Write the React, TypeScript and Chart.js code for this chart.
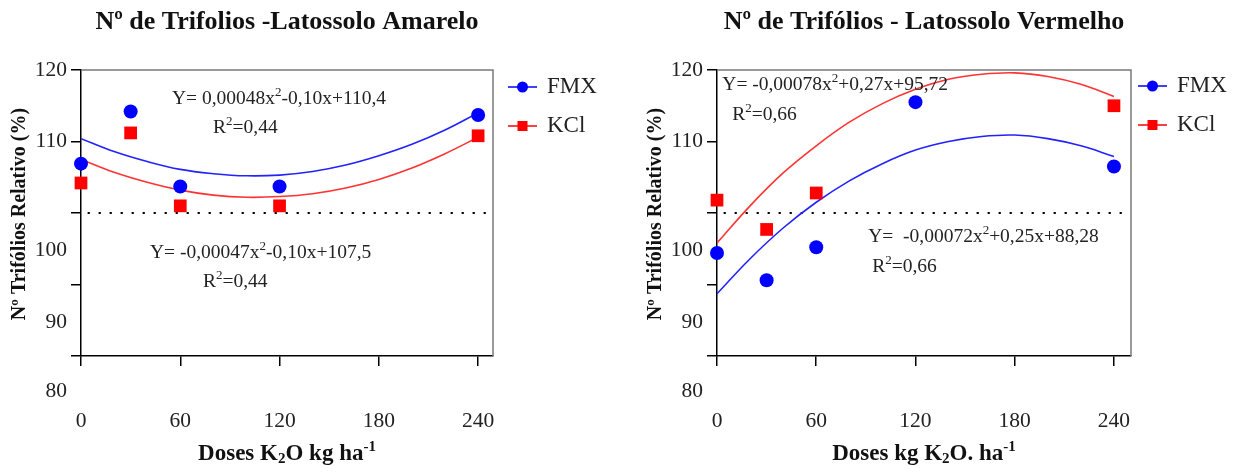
import React, { useEffect, useRef } from 'react';
import { Chart, registerables } from 'chart.js';

Chart.register(...registerables);

// ---------- data ----------
const doses = [0, 30, 60, 120, 240];
const fmxAmarelo = [106.9, 114.2, 103.7, 103.7, 113.7];
const kclAmarelo = [104.2, 111.2, 101.0, 101.0, 110.8];
const fmxVermelho = [94.4, 90.6, 95.2, 115.5, 106.5];
const kclVermelho: (number | null)[] = [101.8, 97.7, 102.8, null, 115.0];

const curveDoses = [0, 20, 40, 60, 80, 100, 120, 140, 160, 180, 200, 220, 240];
const fitFmxAmarelo = [110.4, 108.6, 107.2, 106.1, 105.5, 105.2, 105.3, 105.8, 106.7, 108.0, 109.6, 111.6, 114.0];
const fitKclAmarelo = [107.5, 105.7, 104.3, 103.2, 102.5, 102.2, 102.3, 102.7, 103.5, 104.7, 106.3, 108.3, 110.6];
const fitFmxVermelho = [88.7, 93.6, 97.9, 101.5, 104.5, 106.9, 108.8, 110.0, 110.7, 110.9, 110.4, 109.4, 107.9];
const fitKclVermelho = [95.8, 101.0, 105.6, 109.4, 112.7, 115.3, 117.3, 118.7, 119.4, 119.6, 119.1, 118.0, 116.3];

const xTicks = [0, 60, 120, 180, 240];
const yTicks = [80, 90, 100, 110, 120];
const yTickLabels = ['120', '110', '100', '90', '80'];
const yTickLabelAt = [120, 110, 94.8, 84.7, 75];
const referenceLevel = 100;
const referenceSpan = [4, 246];
const seriesNames = ['FMX', 'KCl'];

const titleAmarelo = 'Nº de Trifolios -Latossolo Amarelo';
const titleVermelho = 'Nº de Trifólios - Latossolo Vermelho';
const xTitleAmarelo = 'Doses K_{2}O kg ha^{-1}';
const xTitleVermelho = 'Doses kg K_{2}O. ha^{-1}';
const yTitle = 'Nº Trifólios Relativo (%)';

const eqAmarelo = ['Y= 0,00048x^{2}-0,10x+110,4', 'R^{2}=0,44', 'Y= -0,00047x^{2}-0,10x+107,5', 'R^{2}=0,44'];
const eqVermelho = ['Y= -0,00078x^{2}+0,27x+95,72', 'R^{2}=0,66', 'Y=  -0,00072x^{2}+0,25x+88,28', 'R^{2}=0,66'];

// ---------- layout ----------
const H = 472;
const AREA_TOP = 70;
const AREA_BOTTOM = 356;
const SERIF = '"Liberation Serif", "Times New Roman", serif';
const BLUE = '#0000ff';
const RED = '#ff0000';

type Panel = {
  title: string;
  xTitle: string;
  fmx: (number | null)[];
  kcl: (number | null)[];
  fitFmx: number[];
  fitKcl: number[];
  eqTexts: string[];
  eqPos: { x: number; y: number }[];
  canvasLeft: number;
  canvasWidth: number;
  areaLeft: number;
  areaRight: number;
  xMax: number;
  legendX: number;
  legendY: number[];
};

const panels: Panel[] = [
  {
    title: titleAmarelo,
    xTitle: xTitleAmarelo,
    fmx: fmxAmarelo,
    kcl: kclAmarelo,
    fitFmx: fitFmxAmarelo,
    fitKcl: fitKclAmarelo,
    eqTexts: eqAmarelo,
    eqPos: [
      { x: 55, y: 115.9 },
      { x: 79.8, y: 111.9 },
      { x: 41.7, y: 94.4 },
      { x: 73.7, y: 90.35 },
    ],
    canvasLeft: 0,
    canvasWidth: 626,
    areaLeft: 81,
    areaRight: 493,
    xMax: 249,
    legendX: 508,
    legendY: [87, 126],
  },
  {
    title: titleVermelho,
    xTitle: xTitleVermelho,
    fmx: fmxVermelho,
    kcl: kclVermelho,
    fitFmx: fitFmxVermelho,
    fitKcl: fitKclVermelho,
    eqTexts: eqVermelho,
    eqPos: [
      { x: 3.2, y: 117.9 },
      { x: 9.2, y: 113.7 },
      { x: 91.4, y: 96.6 },
      { x: 93.8, y: 92.45 },
    ],
    canvasLeft: 626,
    canvasWidth: 618,
    areaLeft: 91,
    areaRight: 505,
    xMax: 250.3,
    legendX: 512,
    legendY: [86, 125],
  },
];

// rich text: ^{..} superscript, _{..} subscript
type Seg = { t: string; k: 'n' | 'sup' | 'sub' };
function parseRich(s: string): Seg[] {
  const out: Seg[] = [];
  const re = /(\^\{[^}]*\}|_\{[^}]*\})/g;
  let last = 0;
  let m: RegExpExecArray | null;
  while ((m = re.exec(s))) {
    if (m.index > last) out.push({ t: s.slice(last, m.index), k: 'n' });
    const tok = m[0];
    out.push({ t: tok.slice(2, -1), k: tok[0] === '^' ? 'sup' : 'sub' });
    last = m.index + tok.length;
  }
  if (last < s.length) out.push({ t: s.slice(last), k: 'n' });
  return out;
}

function drawRich(
  ctx: CanvasRenderingContext2D,
  s: string,
  x: number,
  y: number,
  size: number,
  bold: boolean,
  align: 'left' | 'center',
  color: string
) {
  const segs = parseRich(s);
  const w = bold ? 'bold ' : '';
  const fontFor = (k: string) => `${w}${k === 'n' ? size : Math.round(size * 0.65)}px ${SERIF}`;
  let total = 0;
  for (const sg of segs) {
    ctx.font = fontFor(sg.k);
    total += ctx.measureText(sg.t).width;
  }
  let cx = align === 'center' ? x - total / 2 : x;
  ctx.fillStyle = color;
  ctx.textBaseline = 'middle';
  ctx.textAlign = 'left';
  for (const sg of segs) {
    ctx.font = fontFor(sg.k);
    const dy = sg.k === 'sup' ? -size * 0.32 : sg.k === 'sub' ? size * 0.22 : 0;
    ctx.fillText(sg.t, cx, y + dy);
    cx += ctx.measureText(sg.t).width;
  }
}

function makeDecor(p: Panel) {
  return {
    id: 'decor',
    afterDraw(chart: any) {
      const ctx: CanvasRenderingContext2D = chart.ctx;
      const a = chart.chartArea;
      const xs = chart.scales.x;
      const ys = chart.scales.y;
      ctx.save();
      // top/right frame
      ctx.strokeStyle = '#7a7a7a';
      ctx.lineWidth = 1.5;
      ctx.beginPath();
      ctx.moveTo(a.left, a.top);
      ctx.lineTo(a.right, a.top);
      ctx.lineTo(a.right, a.bottom);
      ctx.stroke();

      // y tick labels
      ctx.font = `21.5px ${SERIF}`;
      ctx.fillStyle = '#222';
      ctx.textAlign = 'right';
      ctx.textBaseline = 'middle';
      yTickLabels.forEach((lab, i) => {
        ctx.fillText(lab, a.left - 14, ys.getPixelForValue(yTickLabelAt[i]));
      });

      // title
      drawRich(ctx, p.title, (a.left + a.right) / 2, 22, 26, true, 'center', '#111');
      // x title
      drawRich(ctx, p.xTitle, (a.left + a.right) / 2, 454, 23, true, 'center', '#111');
      // y title
      ctx.save();
      ctx.translate(a.left - 61, 214);
      ctx.rotate(-Math.PI / 2);
      drawRich(ctx, yTitle, 0, 0, 20, true, 'center', '#111');
      ctx.restore();

      // equations
      p.eqTexts.forEach((t, i) => {
        const pos = p.eqPos[i];
        drawRich(ctx, t, xs.getPixelForValue(pos.x), ys.getPixelForValue(pos.y), 19.5, false, 'left', '#222');
      });

      // legend
      const ds = chart.data.datasets;
      [0, 1].forEach((i) => {
        const d = ds[i];
        const ly = p.legendY[i];
        const x0 = p.legendX;
        ctx.strokeStyle = d.borderColor;
        ctx.lineWidth = 1.5;
        ctx.beginPath();
        ctx.moveTo(x0, ly);
        ctx.lineTo(x0 + 29, ly);
        ctx.stroke();
        ctx.fillStyle = d.backgroundColor;
        if (d.pointStyle === 'circle') {
          ctx.beginPath();
          ctx.arc(x0 + 14.5, ly, 5.5, 0, Math.PI * 2);
          ctx.fill();
        } else {
          ctx.fillRect(x0 + 14.5 - 5, ly - 5, 10, 10);
        }
        ctx.font = `23px ${SERIF}`;
        ctx.fillStyle = '#222';
        ctx.textAlign = 'left';
        ctx.textBaseline = 'middle';
        ctx.fillText(d.label, x0 + 39, ly);
      });
      ctx.restore();
    },
  };
}

function PanelChart({ p }: { p: Panel }) {
  const ref = useRef<HTMLCanvasElement | null>(null);
  useEffect(() => {
    if (!ref.current) return;
    const pts = (vals: (number | null)[]) =>
      doses.map((d, i) => ({ x: d, y: vals[i] })).filter((q) => q.y !== null);
    const curve = (vals: number[]) => curveDoses.map((d, i) => ({ x: d, y: vals[i] }));
    const gridOpts = {
      drawOnChartArea: false,
      drawTicks: true,
      tickLength: 10,
      color: '#000',
      lineWidth: 1.5,
    };
    const chart = new Chart(ref.current, {
      type: 'scatter',
      data: {
        datasets: [
          {
            label: seriesNames[0],
            data: pts(p.fmx),
            pointStyle: 'circle',
            pointRadius: 7,
            pointBorderWidth: 0,
            backgroundColor: BLUE,
            borderColor: BLUE,
            showLine: false,
            clip: false,
          },
          {
            label: seriesNames[1],
            data: pts(p.kcl),
            pointStyle: 'rect',
            pointRadius: 9,
            pointBorderWidth: 0,
            backgroundColor: RED,
            borderColor: RED,
            showLine: false,
            clip: false,
          },
          {
            label: 'ajuste FMX',
            data: curve(p.fitFmx),
            showLine: true,
            pointRadius: 0,
            borderColor: '#2222ff',
            borderWidth: 1.6,
            tension: 0.4,
          },
          {
            label: 'ajuste KCl',
            data: curve(p.fitKcl),
            showLine: true,
            pointRadius: 0,
            borderColor: '#ff3333',
            borderWidth: 1.6,
            tension: 0.4,
          },
          {
            label: 'referência',
            data: referenceSpan.map((x) => ({ x, y: referenceLevel })),
            showLine: true,
            pointRadius: 0,
            borderColor: '#000',
            borderWidth: 2.2,
            borderDash: [2.2, 8.8],
          },
        ],
      } as any,
      options: {
        responsive: false,
        animation: false,
        devicePixelRatio: 1,
        layout: { padding: { left: 0, top: AREA_TOP, right: p.canvasWidth - p.areaRight, bottom: 0 } },
        plugins: { legend: { display: false }, tooltip: { enabled: false }, title: { display: false } },
        scales: {
          x: {
            type: 'linear',
            min: 0,
            max: p.xMax,
            afterBuildTicks: (s: any) => {
              s.ticks = xTicks.map((v) => ({ value: v }));
            },
            afterFit: (s: any) => {
              s.height = H - AREA_BOTTOM;
            },
            grid: gridOpts,
            border: { color: '#000', width: 1.5 },
            ticks: { font: { family: SERIF, size: 21.5 }, color: '#222', padding: 42, maxRotation: 0, autoSkip: false },
          },
          y: {
            type: 'linear',
            min: 80,
            max: 120,
            afterBuildTicks: (s: any) => {
              s.ticks = yTicks.map((v) => ({ value: v }));
            },
            afterFit: (s: any) => {
              s.width = p.areaLeft;
            },
            grid: gridOpts,
            border: { color: '#000', width: 1.5 },
            ticks: { display: false },
          },
        },
      } as any,
      plugins: [makeDecor(p)],
    });
    return () => chart.destroy();
  }, [p]);
  return (
    <canvas
      ref={ref}
      width={p.canvasWidth}
      height={H}
      style={{ position: 'absolute', left: p.canvasLeft, top: 0, width: p.canvasWidth, height: H }}
    />
  );
}

export default function App() {
  return (
    <div style={{ position: 'fixed', left: 0, top: 0, width: 1244, height: H, background: '#fff' }}>
      {panels.map((p, i) => (
        <PanelChart key={i} p={p} />
      ))}
    </div>
  );
}
